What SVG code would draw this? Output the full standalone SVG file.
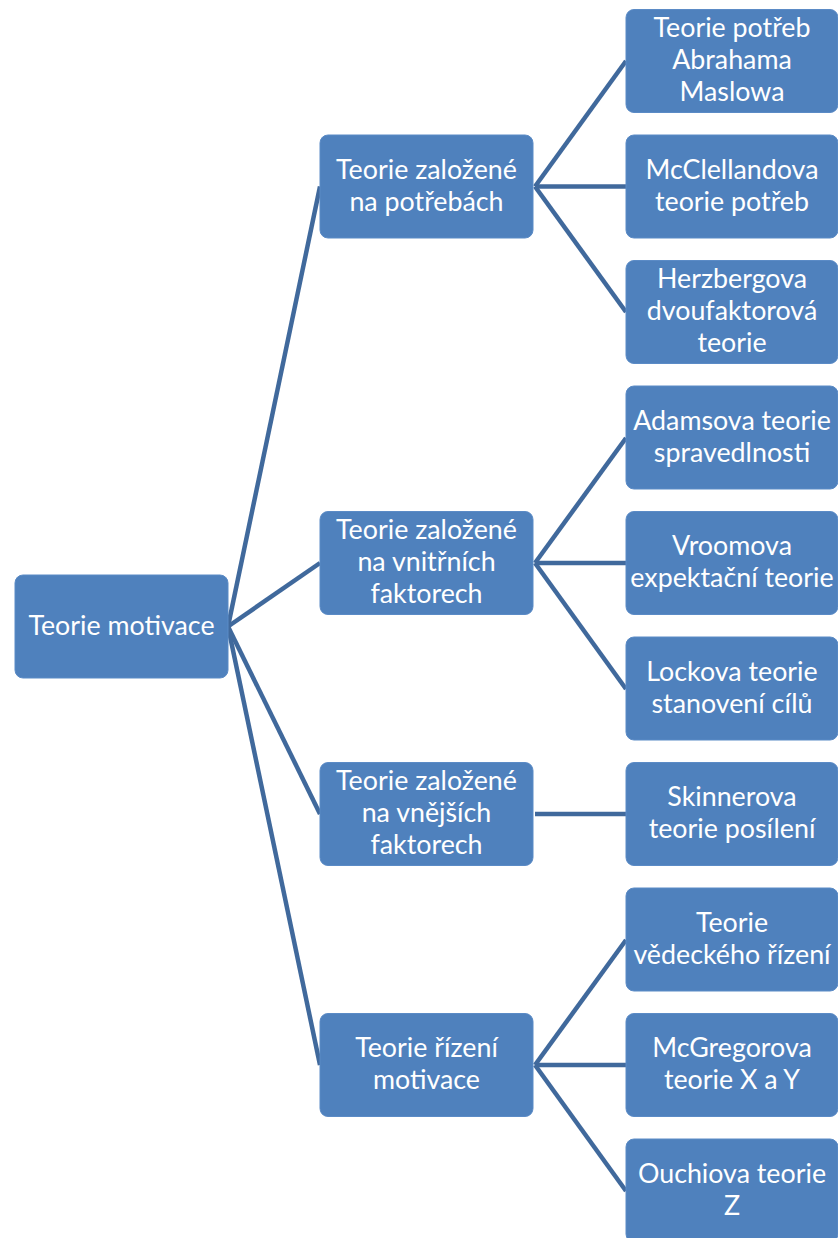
<svg xmlns="http://www.w3.org/2000/svg" width="838" height="1238" viewBox="0 0 838 1238">
<style>
.box{fill:#4F81BD;stroke:#5B8BC6;stroke-width:1}
.t{fill:#FFFFFF;font-family:Lato,"Open Sans","Liberation Sans",sans-serif;font-size:26.8px;text-anchor:middle}
.c{stroke:#40699C;stroke-width:4.5;fill:none}
</style>
<rect width="838" height="1238" fill="#FFFFFF"/>
<g id="connectors">
<line class="c" x1="228" y1="626.5" x2="320" y2="186.5"/>
<line class="c" x1="228" y1="626.5" x2="320" y2="563"/>
<line class="c" x1="228" y1="626.5" x2="320" y2="814"/>
<line class="c" x1="228" y1="626.5" x2="320" y2="1065"/>
<line class="c" x1="535" y1="186.5" x2="626" y2="61"/>
<line class="c" x1="535" y1="186.5" x2="626" y2="186.5"/>
<line class="c" x1="535" y1="186.5" x2="626" y2="312"/>
<line class="c" x1="535" y1="563" x2="626" y2="438"/>
<line class="c" x1="535" y1="563" x2="626" y2="563"/>
<line class="c" x1="535" y1="563" x2="626" y2="689"/>
<line class="c" x1="535" y1="814" x2="626" y2="814"/>
<line class="c" x1="535" y1="1065" x2="626" y2="940"/>
<line class="c" x1="535" y1="1065" x2="626" y2="1065"/>
<line class="c" x1="535" y1="1065" x2="626" y2="1191"/>
</g>
<g id="root"><rect class="box" x="15" y="575" width="213" height="103" rx="8"/><text class="t" x="121.5" y="635">Teorie motivace</text></g>
<g id="n1"><rect class="box" x="320" y="135" width="213" height="103" rx="8"/><text class="t" x="426.5" y="179">Teorie založené</text><text class="t" x="426.5" y="211">na potřebách</text></g>
<g id="n2"><rect class="box" x="320" y="511.5" width="213" height="103" rx="8"/><text class="t" x="426.5" y="539">Teorie založené</text><text class="t" x="426.5" y="571">na vnitřních</text><text class="t" x="426.5" y="603">faktorech</text></g>
<g id="n3"><rect class="box" x="320" y="762.5" width="213" height="103" rx="8"/><text class="t" x="426.5" y="790">Teorie založené</text><text class="t" x="426.5" y="822">na vnějších</text><text class="t" x="426.5" y="854">faktorech</text></g>
<g id="n4"><rect class="box" x="320" y="1013.5" width="213" height="103" rx="8"/><text class="t" x="426.5" y="1057">Teorie řízení</text><text class="t" x="426.5" y="1089">motivace</text></g>
<g id="m1"><rect class="box" x="626" y="9.5" width="212" height="103" rx="8"/><text class="t" x="732" y="37">Teorie potřeb</text><text class="t" x="732" y="69">Abrahama</text><text class="t" x="732" y="101">Maslowa</text></g>
<g id="m2"><rect class="box" x="626" y="135" width="212" height="103" rx="8"/><text class="t" x="732" y="179">McClellandova</text><text class="t" x="732" y="211">teorie potřeb</text></g>
<g id="m3"><rect class="box" x="626" y="260.5" width="212" height="103" rx="8"/><text class="t" x="732" y="288">Herzbergova</text><text class="t" x="732" y="320">dvoufaktorová</text><text class="t" x="732" y="352">teorie</text></g>
<g id="m4"><rect class="box" x="626" y="386" width="212" height="103" rx="8"/><text class="t" x="732" y="430">Adamsova teorie</text><text class="t" x="732" y="462">spravedlnosti</text></g>
<g id="m5"><rect class="box" x="626" y="511.5" width="212" height="103" rx="8"/><text class="t" x="732" y="555">Vroomova</text><text class="t" x="732" y="587">expektační teorie</text></g>
<g id="m6"><rect class="box" x="626" y="637" width="212" height="103" rx="8"/><text class="t" x="732" y="681">Lockova teorie</text><text class="t" x="732" y="713">stanovení cílů</text></g>
<g id="m7"><rect class="box" x="626" y="762.5" width="212" height="103" rx="8"/><text class="t" x="732" y="806">Skinnerova</text><text class="t" x="732" y="838">teorie posílení</text></g>
<g id="m8"><rect class="box" x="626" y="888" width="212" height="103" rx="8"/><text class="t" x="732" y="932">Teorie</text><text class="t" x="732" y="964">vědeckého řízení</text></g>
<g id="m9"><rect class="box" x="626" y="1013.5" width="212" height="103" rx="8"/><text class="t" x="732" y="1057">McGregorova</text><text class="t" x="732" y="1089">teorie X a Y</text></g>
<g id="m10"><rect class="box" x="626" y="1139" width="212" height="103" rx="8"/><text class="t" x="732" y="1183">Ouchiova teorie</text><text class="t" x="732" y="1215">Z</text></g>
</svg>
